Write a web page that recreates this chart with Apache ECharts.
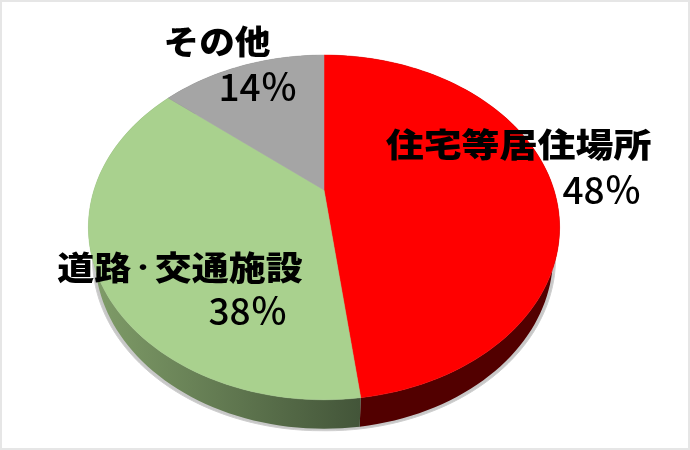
<!DOCTYPE html>
<html><head><meta charset="utf-8">
<style>html,body{margin:0;padding:0;background:#fff}#c{width:690px;height:450px}</style>
<script src="https://cdn.jsdelivr.net/npm/echarts@6/dist/echarts.min.js"></script>
</head><body><div id="c"></div>
<script>
const categories = ['住宅等居住場所', '道路・交通施設', 'その他'];
const values = [48, 38, 14];
const percentLabels = ['48％', '38％', '14％'];

const topColors = ['#ff0000', '#a9d18e', '#a5a5a5'];
const sideColors = [
  ['#5c0000', '#520000'],
  ['#7f9c68', '#435539'],
  ['#6a6a6a', '#6a6a6a']
];
const namePos = [[518.5, 144], [180, 267], [217, 41]];
const nameScale = [1.15, 1.12, 1.08];
const pctPos = [[602, 190], [248, 311], [258, 87]];

const total = values.reduce((a, b) => a + b, 0);
const starts = [];
values.reduce((acc, v, i) => { starts[i] = acc; return acc + v; }, 0);

// Perspective projection of the unit disc onto the tilted pie surface
const view = { cx: 324, apexY: 190, a: 123, c: -0.217, d: 230, depth: 29, shrink: 0.972 };
function project(t, lower) {
  const ang = t * 2 * Math.PI;
  const u = Math.sin(ang), v = -Math.cos(ang);
  const den = 1 + view.c * v;
  let x = view.d * u / den, y = (view.a * v + view.apexY) / den;
  if (lower) { x *= view.shrink; y += view.depth; }
  return [view.cx + x, y];
}
function arc(fromV, toV, lower) {
  const n = Math.max(4, Math.ceil(Math.abs(toV - fromV) * 2));
  const pts = [];
  for (let k = 0; k <= n; k++) pts.push(project((fromV + (toV - fromV) * k / n) / total, lower));
  return pts;
}

function topItem(params, api) {
  const i = api.value(0), s = starts[i], e = s + api.value(1);
  return { type: 'polygon', shape: { points: [[view.cx, view.apexY]].concat(arc(s, e, false)) },
    style: { fill: topColors[i], stroke: topColors[i], lineWidth: 0.5 } };
}
function sideItem(params, api) {
  const i = api.value(0), s = starts[i], e = s + api.value(1);
  const pts = arc(s, e, false).concat(arc(s, e, true).reverse());
  return { type: 'polygon', shape: { points: pts }, style: {
    fill: { type: 'linear', x: 95, y: 0, x2: 360, y2: 0, global: true, colorStops: [
      { offset: 0, color: sideColors[i][0] }, { offset: 1, color: sideColors[i][1] }] } } };
}
function shadowItem(params, api) {
  const i = api.value(0), s = starts[i], e = s + api.value(1);
  const pts = arc(s, e, true).map(p => [p[0] + (p[0] > view.cx ? 2.5 : -2.5), p[1] + 2]);
  return { type: 'polygon', shape: { points: [[view.cx, view.apexY + view.depth]].concat(pts) },
    style: { fill: '#c8c8c8', stroke: '#cfcfcf', lineWidth: 1 } };
}
function labelItem(params, api) {
  const i = api.value(0);
  const name = categories[i];
  const marked = name.split('・').map(p => '{n|' + p + '}').join('{dot|・}');
  const fam = '"Noto Sans CJK JP"';
  return { type: 'group', children: [
    { type: 'text', x: namePos[i][0], y: namePos[i][1], scaleX: nameScale[i], style: {
      text: marked, fill: '#000', textAlign: 'center', textVerticalAlign: 'middle',
      rich: {
        n: { fontFamily: fam, fontWeight: 900, fontSize: 33, fill: '#000', lineHeight: 40 },
        dot: { fontFamily: fam, fontWeight: 900, fontSize: 21, fill: '#000', lineHeight: 40 }
      } } },
    { type: 'text', x: pctPos[i][0], y: pctPos[i][1], style: {
      text: percentLabels[i], fill: '#000', textAlign: 'center', textVerticalAlign: 'middle',
      font: '500 37px ' + fam } }
  ] };
}

const seriesData = values.map((v, i) => [i, v]);
const mk = (fn, z) => ({ type: 'custom', coordinateSystem: 'none', renderItem: fn, data: seriesData, z, silent: true, animation: false });
const chart = echarts.init(document.getElementById('c'), null, { renderer: 'canvas' });
chart.setOption({
  animation: false,
  backgroundColor: '#fff',
  graphic: [{ type: 'rect', z: 100, shape: { x: 1, y: 1, width: 688, height: 448 },
    style: { fill: 'none', stroke: '#e6e6e6', lineWidth: 2 } }],
  series: [mk(shadowItem, 1), mk(sideItem, 2), mk(topItem, 3), mk(labelItem, 4)]
});
</script></body></html>
